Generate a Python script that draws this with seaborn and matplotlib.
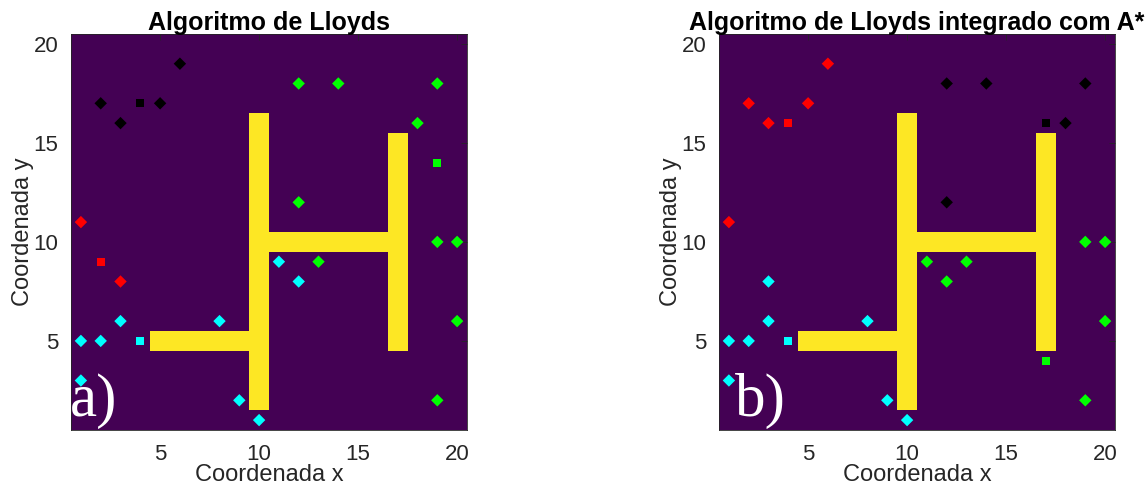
#%% libraries
import numpy as np
import pandas as pd
import matplotlib
matplotlib.use("Agg")
import matplotlib.pyplot as plt
import seaborn as sns

#%% mapa (grade 20x20) e obstaculos
n_cells = 20
# paredes verticais: (coluna x, y inicial, y final)
walls_v = [(10, 2, 16), (17, 5, 15)]
# paredes horizontais: (linha y, x inicial, x final)
walls_h = [(10, 11, 16), (5, 5, 9)]

#%% a) Algoritmo de Lloyds
a_red_x, a_red_y = [1, 3], [11, 8]
a_red_cx, a_red_cy = [2], [9]
a_black_x, a_black_y = [2, 3, 5, 6], [17, 16, 17, 19]
a_black_cx, a_black_cy = [4], [17]
a_cyan_x = [1, 2, 3, 8, 1, 9, 10, 11, 12]
a_cyan_y = [5, 5, 6, 6, 3, 2, 1, 9, 8]
a_cyan_cx, a_cyan_cy = [4], [5]
a_green_x = [12, 14, 19, 18, 12, 13, 19, 20, 20, 19]
a_green_y = [18, 18, 18, 16, 12, 9, 10, 10, 6, 2]
a_green_cx, a_green_cy = [19], [14]

#%% b) Lloyds integrado com A*
b_red_x, b_red_y = [1, 2, 3, 5, 6], [11, 17, 16, 17, 19]
b_red_cx, b_red_cy = [4], [16]
b_black_x, b_black_y = [12, 14, 19, 18, 12], [18, 18, 18, 16, 12]
b_black_cx, b_black_cy = [17], [16]
b_cyan_x = [3, 3, 8, 1, 2, 1, 9, 10]
b_cyan_y = [8, 6, 6, 5, 5, 3, 2, 1]
b_cyan_cx, b_cyan_cy = [4], [5]
b_green_x = [19, 20, 11, 13, 12, 20, 19]
b_green_y = [10, 10, 9, 9, 8, 6, 2]
b_green_cx, b_green_cy = [17], [4]

colors = {"red": "#ff0000", "black": "#000000", "cyan": "#00ffff", "green": "#00ff00"}

#%% grade
grid = np.zeros((n_cells, n_cells))
for x, y0, y1 in walls_v:
    grid[y0 - 1:y1, x - 1] = 1
for y, x0, x1 in walls_h:
    grid[y - 1, x0 - 1:x1] = 1

#%% tabelas para o seaborn
def make_df(groups):
    rows = []
    for name, (xs, ys, cxs, cys) in groups.items():
        for x, y in zip(xs, ys):
            rows.append((x, y, name, "agente"))
        for x, y in zip(cxs, cys):
            rows.append((x, y, name, "centroide"))
    return pd.DataFrame(rows, columns=["x", "y", "grupo", "tipo"])

df_a = make_df({
    "red": (a_red_x, a_red_y, a_red_cx, a_red_cy),
    "black": (a_black_x, a_black_y, a_black_cx, a_black_cy),
    "cyan": (a_cyan_x, a_cyan_y, a_cyan_cx, a_cyan_cy),
    "green": (a_green_x, a_green_y, a_green_cx, a_green_cy),
})
df_b = make_df({
    "red": (b_red_x, b_red_y, b_red_cx, b_red_cy),
    "black": (b_black_x, b_black_y, b_black_cx, b_black_cy),
    "cyan": (b_cyan_x, b_cyan_y, b_cyan_cx, b_cyan_cy),
    "green": (b_green_x, b_green_y, b_green_cx, b_green_cy),
})

#%% visualization
sns.set_style("white")
plt.rcParams["font.family"] = ["Liberation Sans", "DejaVu Sans"]
text_col = "#262626"

fig = plt.figure(figsize=(11.47, 4.87), dpi=100)
ax1 = fig.add_axes([71 / 1147, 57 / 487, 396 / 1147, 396 / 487])
ax2 = fig.add_axes([719 / 1147, 57 / 487, 396 / 1147, 396 / 487])

panels = [
    (ax1, df_a, "Algoritmo de Lloyds", "a)", 0.45),
    (ax2, df_b, "Algoritmo de Lloyds integrado com A*", "b)", 1.3),
]

for ax, df, title, tag, tag_x in panels:
    ax.imshow(grid, cmap="viridis", origin="lower", aspect="auto",
              extent=(0.5, n_cells + 0.5, 0.5, n_cells + 0.5))
    sns.scatterplot(data=df[df.tipo == "agente"], x="x", y="y", hue="grupo",
                    palette=colors, marker="D", s=40, linewidth=0,
                    legend=False, ax=ax, zorder=3)
    sns.scatterplot(data=df[df.tipo == "centroide"], x="x", y="y", hue="grupo",
                    palette=colors, marker="s", s=30, linewidth=0,
                    legend=False, ax=ax, zorder=3)
    ax.set_xlim(0.5, n_cells + 0.5)
    ax.set_ylim(0.5, n_cells + 0.5)
    ax.set_xticks([5, 10, 15, 20])
    ax.set_yticks([5, 10, 15, 20])
    ax.tick_params(direction="in", length=4, width=0.6, colors=text_col,
                   labelsize=16, top=True, right=True)
    ax.tick_params(axis="x", pad=10)
    ax.tick_params(axis="y", pad=9)
    ax.set_xlabel("Coordenada x", fontsize=17, color=text_col)
    ax.xaxis.set_label_coords(0.5, -0.087)
    ax.set_ylabel("Coordenada y", fontsize=17, color=text_col, labelpad=0)
    ax.set_title(title, fontsize=18, fontweight="bold", color="black", pad=3)
    for sp in ax.spines.values():
        sp.set_color(text_col)
        sp.set_linewidth(0.6)
    ax.text(tag_x, 1.2, tag, color="white", fontsize=44,
            family="Liberation Serif", ha="left", va="baseline", zorder=4)

plt.savefig("out.png", dpi=100)
